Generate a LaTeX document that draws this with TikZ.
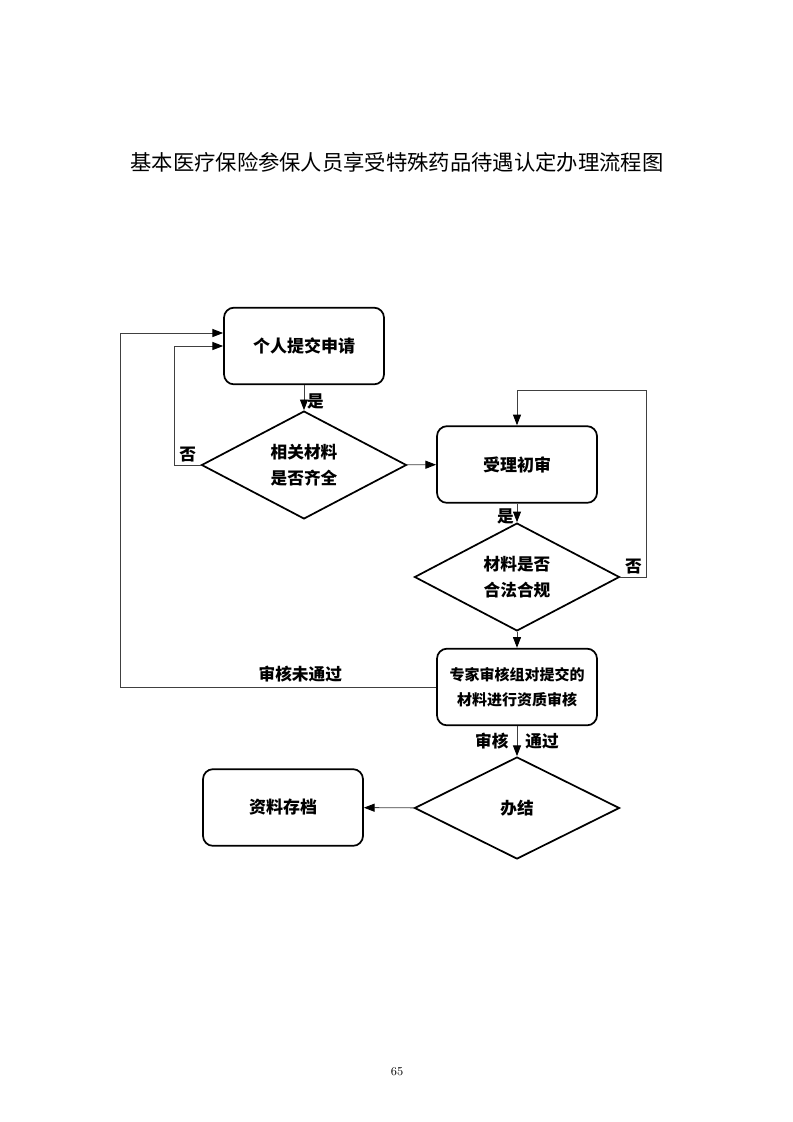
\documentclass[tikz,border=0pt]{standalone}
\usepackage{fontspec}
\newfontfamily\cjk{Noto Sans CJK SC}
\usetikzlibrary{calc, shapes.geometric, arrows.meta}

\begin{document}
\begin{tikzpicture}[>={Triangle[length=8pt, width=6pt, color=black]}, x=0.75pt, y=-0.75pt,
    stepbox/.style={draw, line width=1.3pt, rounded corners=7.5pt,
      minimum width=120pt, minimum height=57.5pt, align=center,
      font=\cjk\bfseries\fontsize{12.75pt}{17pt}\selectfont},
    choice/.style={draw, diamond, line width=1.3pt, inner sep=0pt,
      minimum width=153.75pt, minimum height=76.5pt, align=center,
      font=\cjk\bfseries\fontsize{12.5pt}{19pt}\selectfont},
    link/.style={->, line width=0.7pt, draw=black!75},
    tag/.style={font=\cjk\bfseries\fontsize{12.5pt}{14pt}\selectfont, inner sep=2pt}]
  \useasboundingbox (0, 0) rectangle (793, 1122);
  % title
  \node[font=\cjk\fontsize{16pt}{18pt}\selectfont] (title) at (397, 162)
    {基本医疗保险参保人员享受特殊药品待遇认定办理流程图};
  % left column
  \node[stepbox] (apply) at (304, 346) {个人提交申请};
  \node[choice] (complete) at (304, 465) {相关材料\\是否齐全};
  % right column
  \node[stepbox] (check) at (517, 464.5) {受理初审};
  \node[choice] (legal) at (517, 577) {材料是否\\合法合规};
  \node[stepbox, font=\cjk\bfseries\fontsize{11.25pt}{19pt}\selectfont] (expert) at (517, 687)
    {专家审核组对提交的\\材料进行资质审核};
  \node[choice] (done) at (517, 808) {办结};
  \node[stepbox] (archive) at (283, 807.5) {资料存档};
  % connectors
  \draw[link] (apply) -- node[tag, right, pos=0.65] {是} (complete);
  \draw[link] (complete.west) -- node[tag, above] {否} ++(-26, 0) |- (apply.west);
  \draw[link] (complete) -- (check);
  \draw[link] (check) -- node[tag, left, pos=0.7] {是} (legal);
  \draw[link] (legal.east) -- node[tag, above] {否} ++(26, 0)
    |- ($(check.north) + (0, -35)$) -- (check.north);
  \draw[link] (legal) -- (expert);
  \draw[link] (expert.west) -- node[tag, above, pos=0.43, yshift=1pt] {审核未通过} ++(-316, 0)
    |- ($(apply.west) + (0, -13)$);
  \draw[link] (expert) -- node[tag, left, inner xsep=6pt] {审核}
    node[tag, right, inner xsep=6pt] {通过} (done);
  \draw[link] (done) -- (archive);
  % page number
  \node[font=\fontsize{9pt}{11pt}\selectfont] (page) at (397, 1072) {65};
\end{tikzpicture}
\end{document}
